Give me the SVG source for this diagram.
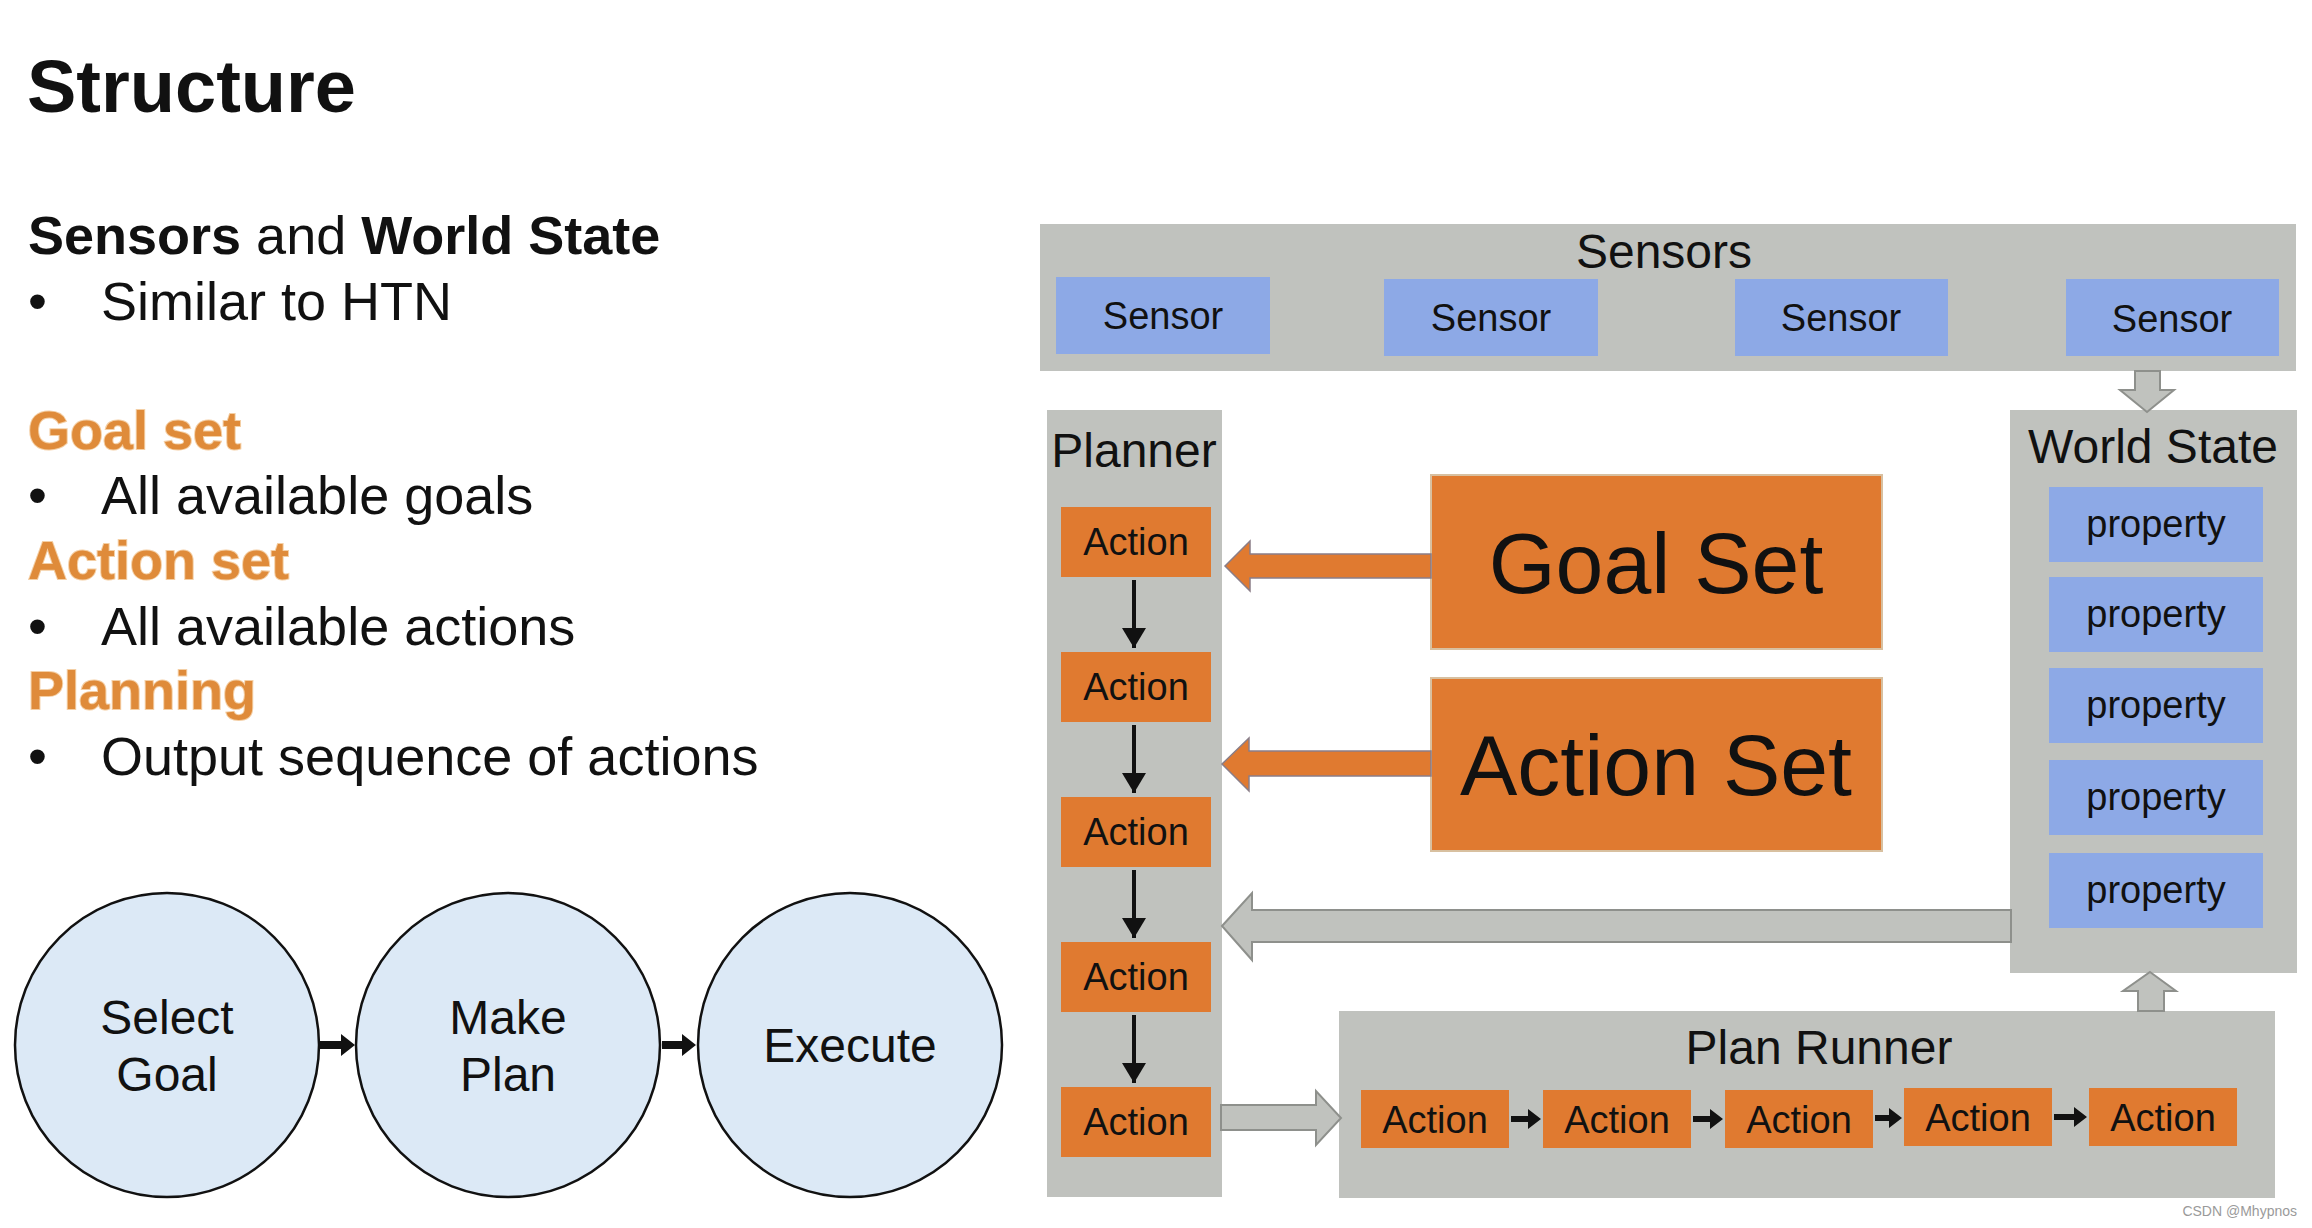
<svg xmlns="http://www.w3.org/2000/svg" width="2312" height="1228" viewBox="0 0 2312 1228">
<style>
text{font-family:"Liberation Sans",Arial,sans-serif;fill:#111}
.h{font-weight:bold}
.or{fill:#DF8B3A;stroke:#F4CFA5;stroke-width:2;paint-order:stroke}
.b54{font-size:54px}
.panel{fill:#C0C2BE}
.blue{fill:#8DA9E6}
.orange{fill:#E07A30}
.t48{font-size:48px;text-anchor:middle}
.t38{font-size:38px;text-anchor:middle}
.t86{font-size:86px;text-anchor:middle}
.garrow{fill:#C0C2BE;stroke:#8E908C;stroke-width:2}
.oarrow{fill:#E07A30;stroke:#8A7E88;stroke-width:1.5}
.blk{fill:#111}
.circ{fill:#DCE9F6;stroke:#111;stroke-width:2.5}
</style>
<defs>
<marker id="ah" markerWidth="6" markerHeight="6" refX="5" refY="3" orient="auto" markerUnits="strokeWidth">
<path d="M0,0 L5,3 L0,6 Z" fill="#111"/>
</marker>
</defs>
<rect width="2312" height="1228" fill="#fff"/>

<g id="left-text">
<text x="27" y="112" class="h" font-size="74">Structure</text>
<text x="28" y="254" class="b54"><tspan class="h">Sensors</tspan> and <tspan class="h">World State</tspan></text>
<text x="28" y="320" class="b54">•</text><text x="101" y="320" class="b54">Similar to HTN</text>
<text x="28" y="449" class="b54 h or">Goal set</text>
<text x="28" y="514" class="b54">•</text><text x="101" y="514" class="b54">All available goals</text>
<text x="28" y="579" class="b54 h or">Action set</text>
<text x="28" y="645" class="b54">•</text><text x="101" y="645" class="b54">All available actions</text>
<text x="28" y="709" class="b54 h or">Planning</text>
<text x="28" y="775" class="b54">•</text><text x="101" y="775" class="b54">Output sequence of actions</text>
</g>

<g id="cycle">
<g id="select-goal"><circle class="circ" cx="167" cy="1045" r="152"/><text class="t48" x="167" y="1034">Select</text><text class="t48" x="167" y="1091">Goal</text></g>
<g id="make-plan"><circle class="circ" cx="508" cy="1045" r="152"/><text class="t48" x="508" y="1034">Make</text><text class="t48" x="508" y="1091">Plan</text></g>
<g id="execute"><circle class="circ" cx="850" cy="1045" r="152"/><text class="t48" x="850" y="1062">Execute</text></g>
</g>

<g id="sensors">
<rect class="panel" x="1040" y="224" width="1256" height="147"/>
<text class="t48" x="1664" y="268">Sensors</text>
<g id="sensor1"><rect class="blue" x="1056" y="277" width="214" height="77"/><text class="t38" x="1163" y="329">Sensor</text></g>
<g id="sensor2"><rect class="blue" x="1384" y="279" width="214" height="77"/><text class="t38" x="1491" y="331">Sensor</text></g>
<g id="sensor3"><rect class="blue" x="1735" y="279" width="213" height="77"/><text class="t38" x="1841" y="331">Sensor</text></g>
<g id="sensor4"><rect class="blue" x="2066" y="279" width="213" height="77"/><text class="t38" x="2172" y="332">Sensor</text></g>
</g>

<g id="planner">
<rect class="panel" x="1047" y="410" width="175" height="787"/>
<text class="t48" x="1134" y="467">Planner</text>
<g id="pa1"><rect class="orange" x="1061" y="507" width="150" height="70"/><text class="t38" x="1136" y="555">Action</text></g>
<g id="pa2"><rect class="orange" x="1061" y="652" width="150" height="70"/><text class="t38" x="1136" y="700">Action</text></g>
<g id="pa3"><rect class="orange" x="1061" y="797" width="150" height="70"/><text class="t38" x="1136" y="845">Action</text></g>
<g id="pa4"><rect class="orange" x="1061" y="942" width="150" height="70"/><text class="t38" x="1136" y="990">Action</text></g>
<g id="pa5"><rect class="orange" x="1061" y="1087" width="150" height="70"/><text class="t38" x="1136" y="1135">Action</text></g>
</g>

<g id="world-state">
<rect class="panel" x="2010" y="410" width="287" height="563"/>
<text class="t48" x="2153" y="463">World State</text>
<g id="prop1"><rect class="blue" x="2049" y="487" width="214" height="75"/><text class="t38" x="2156" y="537">property</text></g>
<g id="prop2"><rect class="blue" x="2049" y="577" width="214" height="75"/><text class="t38" x="2156" y="627">property</text></g>
<g id="prop3"><rect class="blue" x="2049" y="668" width="214" height="75"/><text class="t38" x="2156" y="718">property</text></g>
<g id="prop4"><rect class="blue" x="2049" y="760" width="214" height="75"/><text class="t38" x="2156" y="810">property</text></g>
<g id="prop5"><rect class="blue" x="2049" y="853" width="214" height="75"/><text class="t38" x="2156" y="903">property</text></g>
</g>

<g id="goal-set"><rect class="orange" x="1431" y="475" width="451" height="174" stroke="#D8C0A0" stroke-width="2"/><text class="t86" x="1656" y="593">Goal Set</text></g>
<g id="action-set"><rect class="orange" x="1431" y="678" width="451" height="173" stroke="#D8C0A0" stroke-width="2"/><text class="t86" x="1656" y="795">Action Set</text></g>

<g id="plan-runner">
<rect class="panel" x="1339" y="1011" width="936" height="187"/>
<text class="t48" x="1819" y="1064">Plan Runner</text>
<g id="ra1"><rect class="orange" x="1361" y="1090" width="148" height="58"/><text class="t38" x="1435" y="1133">Action</text></g>
<g id="ra2"><rect class="orange" x="1543" y="1090" width="148" height="58"/><text class="t38" x="1617" y="1133">Action</text></g>
<g id="ra3"><rect class="orange" x="1725" y="1090" width="148" height="58"/><text class="t38" x="1799" y="1133">Action</text></g>
<g id="ra4"><rect class="orange" x="1904" y="1088" width="148" height="58"/><text class="t38" x="1978" y="1131">Action</text></g>
<g id="ra5"><rect class="orange" x="2089" y="1088" width="148" height="58"/><text class="t38" x="2163" y="1131">Action</text></g>
</g>

<g id="connectors">
<polygon class="blk" points="320,1041 341,1041 341,1034 355,1045 341,1056 341,1049 320,1049"/>
<polygon class="blk" points="662,1041 682,1041 682,1034 696,1045 682,1056 682,1049 662,1049"/>
<polygon class="garrow" points="2135,371 2160,371 2160,390 2174,390 2147,412 2120,390 2135,390"/>
<polygon class="oarrow" points="1225,566 1250,541 1250,554 1431,554 1431,578 1250,578 1250,591"/>
<polygon class="oarrow" points="1222,764 1249,738 1249,751 1431,751 1431,776 1249,776 1249,791"/>
<polygon class="garrow" points="1222,926 1252,893 1252,910 2011,910 2011,942 1252,942 1252,960"/>
<polygon class="garrow" points="1221,1105 1316,1105 1316,1091 1341,1118 1316,1145 1316,1130 1221,1130"/>
<polygon class="garrow" points="2150,972 2176,991 2164,991 2164,1011 2138,1011 2138,991 2123,991"/>
<g stroke="#111" stroke-width="4" marker-end="url(#ah)">
<line x1="1134" y1="580" x2="1134" y2="648"/>
<line x1="1134" y1="725" x2="1134" y2="793"/>
<line x1="1134" y1="870" x2="1134" y2="938"/>
<line x1="1134" y1="1015" x2="1134" y2="1083"/>
</g>
<polygon class="blk" points="1511,1116 1528,1116 1528,1109 1541,1119 1528,1129 1528,1122 1511,1122"/>
<polygon class="blk" points="1693,1116 1710,1116 1710,1109 1723,1119 1710,1129 1710,1122 1693,1122"/>
<polygon class="blk" points="1875,1115 1889,1115 1889,1108 1902,1118 1889,1128 1889,1121 1875,1121"/>
<polygon class="blk" points="2054,1114 2074,1114 2074,1107 2087,1117 2074,1127 2074,1120 2054,1120"/>
</g>

<text x="2297" y="1216" font-size="14" text-anchor="end" style="fill:#9a9a9a">CSDN @Mhypnos</text>
</svg>
